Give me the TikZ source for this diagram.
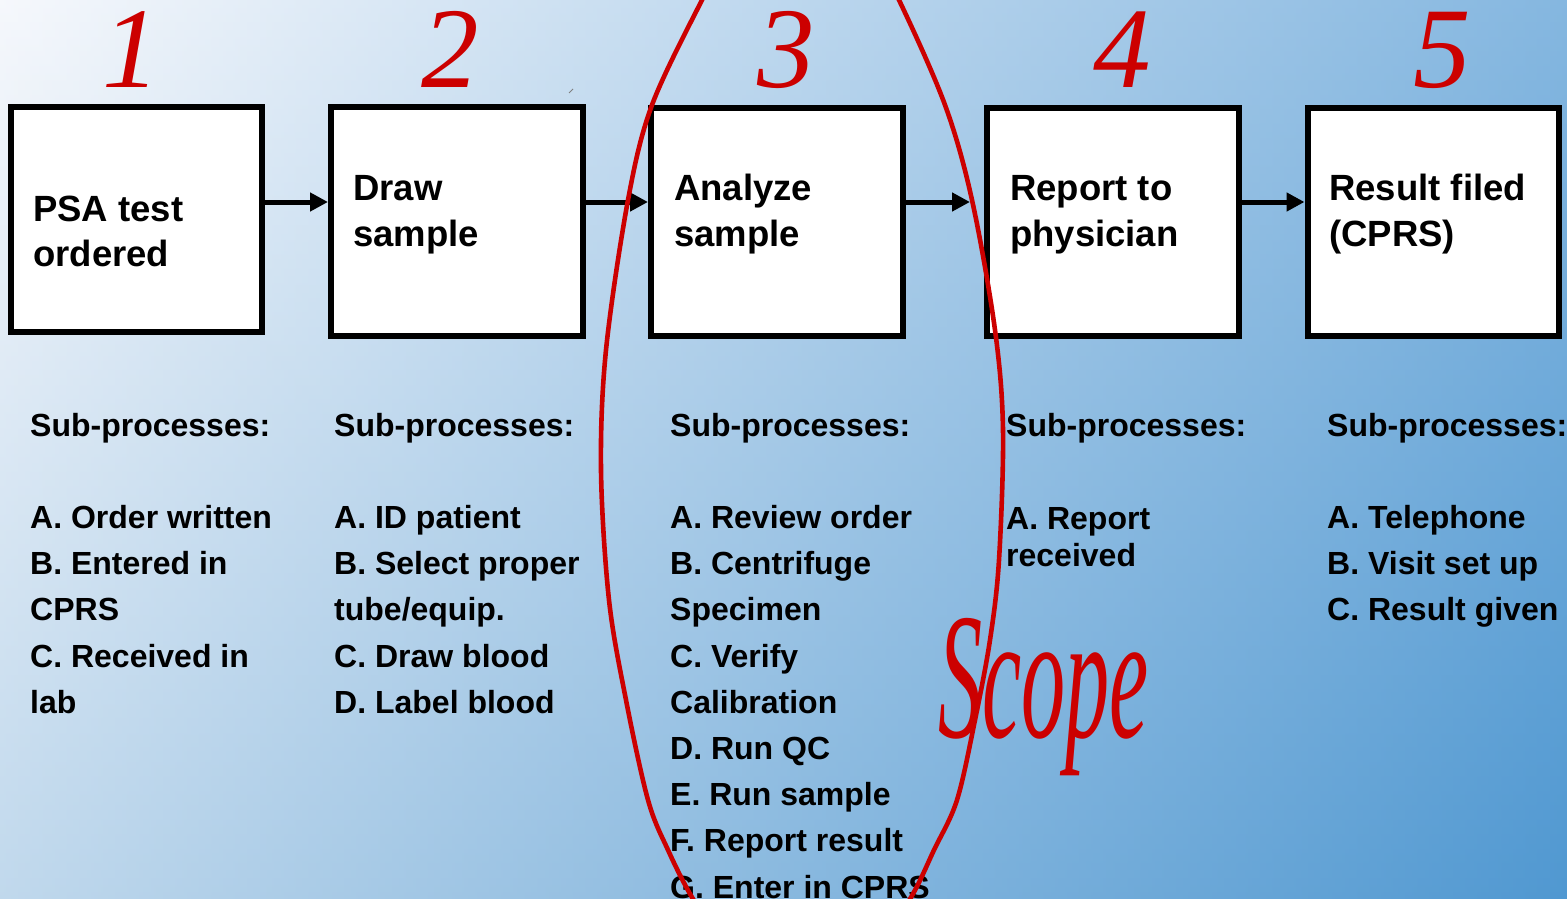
\documentclass[tikz,border=0pt]{standalone}
\usepackage{fontspec}
\setmainfont{Liberation Sans}
\newfontfamily\serifit{Liberation Serif}
\usetikzlibrary{arrows.meta}
\definecolor{bgA}{RGB}{246,248,252}
\definecolor{bgB}{RGB}{20,118,196}
\definecolor{bgD}{RGB}{140,186,222}
\definecolor{hred}{RGB}{204,0,0}
\tikzset{
  stepbox/.style={draw=black, fill=white, line width=6pt, inner sep=0pt, minimum width=251.5pt, minimum height=228pt},
  boxtext/.style={anchor=base west, inner sep=0pt, font=\bfseries\fontsize{36.5}{40}\selectfont},
  subtext/.style={anchor=base west, inner sep=0pt, font=\bfseries\fontsize{32}{36}\selectfont},
  stepnum/.style={anchor=base, inner sep=0pt, text=hred, font=\serifit\itshape\fontsize{115}{115}\selectfont},
  flowarrow/.style={line width=5pt, -{Triangle[length=18pt,width=18pt]}},
  scopeline/.style={draw=hred, line width=4.6pt},
}
\begin{document}
\begin{tikzpicture}[x=1pt,y=-1pt]
\useasboundingbox (0,0) rectangle (1567,899);
\begin{scope}
\clip (0,0) rectangle (1567,899);
% background
\shade[left color=bgA, right color=bgB] (0,0) rectangle (1567,899);
\shade[top color=bgA, bottom color=bgD, opacity=0.5] (0,0) rectangle (1567,899);
\draw[gray, line width=1pt] (569,93) -- (573,89);

% boxes
\node[stepbox, minimum height=224.5pt] (b1) at (136.5,219.25) {};
\node[stepbox, minimum height=229pt] (b2) at (456.75,221.5) {};
\node[stepbox] (b3) at (776.75,222) {};
\node[stepbox] (b4) at (1112.75,222) {};
\node[stepbox] (b5) at (1433.25,222) {};

% box texts
\node[boxtext] (t1a) at (33,221) {PSA test};
\node[boxtext] (t1b) at (33,266) {ordered};
\node[boxtext] (t2a) at (353,200) {Draw};
\node[boxtext] (t2b) at (353,246) {sample};
\node[boxtext] (t3a) at (674,200) {Analyze};
\node[boxtext] (t3b) at (674,246) {sample};
\node[boxtext] (t4a) at (1010,200) {Report to};
\node[boxtext] (t4b) at (1010,246) {physician};
\node[boxtext] (t5a) at (1329,200) {Result filed};
\node[boxtext] (t5b) at (1329,246) {(CPRS)};

% arrows
\coordinate (ay) at (0,202);
\draw[flowarrow] (b1.east |- ay) -- (b2.west |- ay);
\draw[flowarrow] (b2.east |- ay) -- (b3.west |- ay);
\draw[flowarrow, shorten >=14pt] (b3.east |- ay) -- (b4.west |- ay);
\draw[flowarrow] (b4.east |- ay) -- (b5.west |- ay);

% step numbers
\node[stepnum] (n1) at (131,88) {1};
\node[stepnum] (n2) at (450.5,88) {2};
\node[stepnum] (n3) at (786,88) {3};
\node[stepnum] (n4) at (1122.5,88) {4};
\node[stepnum] (n5) at (1442,88) {5};

% sub-processes
\foreach \i/\t in {0/Sub-processes:, 2/A. Order written, 3/B. Entered in, 4/CPRS, 5/C. Received in, 6/lab}
  \node[subtext] (sa\i) at (30,436+\i*46.2) {\t};
\foreach \i/\t in {0/Sub-processes:, 2/A. ID patient, 3/B. Select proper, 4/tube\slash equip., 5/C. Draw blood, 6/D. Label blood}
  \node[subtext] (sb\i) at (334,436+\i*46.2) {\t};
\foreach \i/\t in {0/Sub-processes:, 2/A. Review order, 3/B. Centrifuge, 4/Specimen, 5/C. Verify, 6/Calibration, 7/D. Run QC, 8/E. Run sample, 9/F. Report result, 10/G. Enter in CPRS}
  \node[subtext] (sc\i) at (670,436+\i*46.2) {\t};
\node[subtext] (sd0) at (1006,436) {Sub-processes:};
\node[subtext] (sd2) at (1006,529) {A. Report};
\node[subtext] (sd3) at (1006,566) {received};
\foreach \i/\t in {0/Sub-processes:, 2/A. Telephone, 3/B. Visit set up, 4/C. Result given}
  \node[subtext] (se\i) at (1327,436+\i*46.2) {\t};

% scope outline
\draw[scopeline] plot[smooth cycle, tension=0.55] coordinates {
  (800,-110) (866,-60) (899,0) (945,105) (972,200) (995,330) (1003,430) (999,560)
  (990,640) (975,720) (957,800) (934,850) (910,899) (868,960) (800,1010) (733,960)
  (693,899) (668,850) (648,800) (626,700) (609,600) (601,470) (606,350) (628,200)
  (652,105) (702,0) (735,-60)};
\node[anchor=base west, inner sep=0pt, text=hred, xscale=0.49, font=\serifit\itshape\fontsize{180}{180}\selectfont] (scope) at (938,737) {Scope};
\end{scope}
\end{tikzpicture}
\end{document}
